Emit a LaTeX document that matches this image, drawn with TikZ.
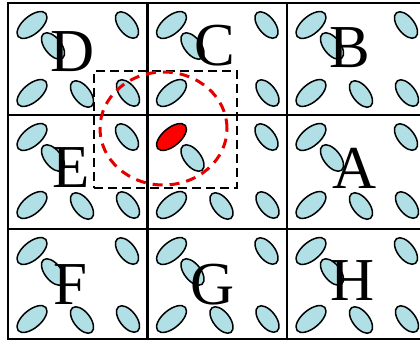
\documentclass[tikz,border=0pt]{standalone}
\usepackage{fontspec}
\setmainfont{Liberation Serif}
\usetikzlibrary{shapes.geometric}
\definecolor{pblue}{HTML}{B0E0E6}
\begin{document}
\begin{tikzpicture}[x=1pt, y=-1pt,
  cellbox/.style={draw=black, line width=2.4pt, minimum width=139.5pt,
                  inner sep=0pt, outer sep=0pt, anchor=north west},
  pcl/.style={ellipse, draw=black, line width=1.5pt, fill=pblue, inner sep=0pt},
  rise/.style={pcl, minimum width=36pt, minimum height=18pt, rotate=40},
  fall/.style={pcl, minimum width=31pt, minimum height=16.5pt, rotate=-52},
  hot/.style={fill=red},
  lbl/.style={font=\fontsize{61}{61}\selectfont, inner sep=0pt},
  nbr/.style={draw=black, line width=2.6pt, dash pattern=on 9pt off 5pt,
              inner sep=0pt},
  reach/.style={ellipse, draw=red!90!black, line width=3pt,
                dash pattern=on 10pt off 7pt, inner sep=0pt}
]
  \useasboundingbox (0,0) rectangle (420,341);

  % Grid of cells
  \foreach \row/\cy/\h in {0/3/112, 1/115/114, 2/229/110} {
    \foreach \col/\cx in {0/8, 1/147.5, 2/287} {
      \node[cellbox, minimum height=\h pt] (cell\col\row) at (\cx,\cy) {};
    }
  }

  % Particles, same pattern in every cell
  \foreach \row/\cy in {0/3, 1/115, 2/229} {
    \foreach \col/\cx in {0/8, 1/147.5, 2/287} {
      \foreach \k/\dx/\dy/\kind in {1/24/22/rise, 2/45/43/fall, 3/119/22/fall,
                                    4/24/90/rise, 5/74/91/fall, 6/120/90/fall} {
        \pgfmathtruncatemacro{\isgap}{(\col==1)*(\row==0)*(\k==5)}
        \pgfmathtruncatemacro{\ishot}{(\col==1)*(\row==1)*(\k==1)}
        \ifnum\isgap=0
          \ifnum\ishot=1
            \node[\kind, hot] (p\col\row\k) at ({\cx+\dx},{\cy+\dy}) {};
          \else
            \node[\kind] (p\col\row\k) at ({\cx+\dx},{\cy+\dy}) {};
          \fi
        \fi
      }
    }
  }

  % Cell letters
  \foreach \lt/\lx/\ly in {D/73/52, C/215/46, B/350/48, E/71/168,
                           A/355/168, F/70/285, G/213/285, H/353/281} {
    \node[lbl] (\lt) at (\lx,\ly) {\lt};
  }

  % Neighbourhood box and cut-off radius
  \node[nbr, minimum width=143pt, minimum height=117pt] (box) at (165.5,129.5) {};
  \node[reach, minimum width=127pt, minimum height=113pt] (ring) at (163.5,128.5) {};
\end{tikzpicture}
\end{document}
